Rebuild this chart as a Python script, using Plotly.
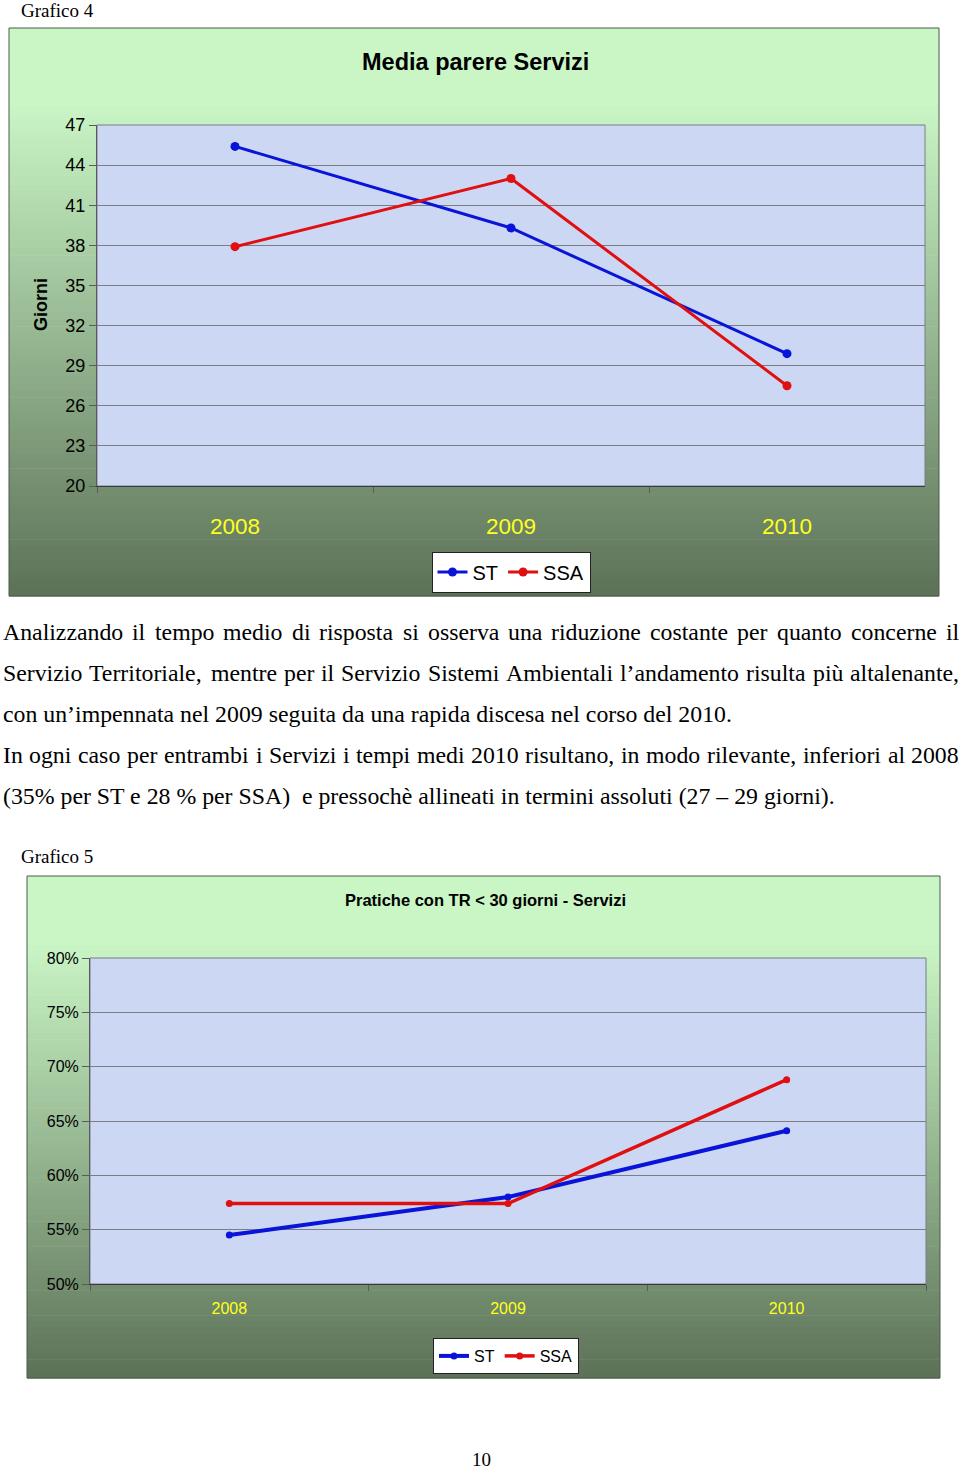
import plotly.graph_objects as go

# ---------------- data ----------------
years = ["2008", "2009", "2010"]
st_giorni = [45.4, 39.3, 29.9]
ssa_giorni = [37.9, 43.0, 27.5]
st_quota = [0.545, 0.580, 0.641]
ssa_quota = [0.574, 0.574, 0.688]
giorni_ticks = [20, 23, 26, 29, 32, 35, 38, 41, 44, 47]

W, H = 960, 1470


def px(x):
    return x / W


def py(y):
    return 1 - y / H


BLUE = "#0a14d8"
RED = "#e01010"
SANS = "Arial, Liberation Sans, sans-serif"
SERIF = "Liberation Serif, Times New Roman, serif"

fig = go.Figure()

# chart 1 traces
fig.add_trace(go.Scatter(x=years, y=st_giorni, name="ST", mode="lines+markers",
                         line=dict(color=BLUE, width=3), marker=dict(size=9, color=BLUE),
                         xaxis="x", yaxis="y", legend="legend"))
fig.add_trace(go.Scatter(x=years, y=ssa_giorni, name="SSA", mode="lines+markers",
                         line=dict(color=RED, width=3), marker=dict(size=9, color=RED),
                         xaxis="x", yaxis="y", legend="legend"))
# chart 2 traces
fig.add_trace(go.Scatter(x=years, y=st_quota, name="ST", mode="lines+markers",
                         line=dict(color=BLUE, width=4), marker=dict(size=7, color=BLUE),
                         xaxis="x2", yaxis="y2", legend="legend2"))
fig.add_trace(go.Scatter(x=years, y=ssa_quota, name="SSA", mode="lines+markers",
                         line=dict(color=RED, width=3.5), marker=dict(size=7, color=RED),
                         xaxis="x2", yaxis="y2", legend="legend2"))

shapes = []


def gradient_box(x0, y0, x1, y1, n=80):
    top = (202, 246, 198)
    bot = (92, 113, 87)
    h = (y1 - y0) / n
    for i in range(n):
        t = (i + 0.5) / n
        s = 0.0 if t < 0.13 else (t - 0.13) / 0.87
        c = tuple(int(round(top[k] + (bot[k] - top[k]) * s)) for k in range(3))
        shapes.append(dict(type="rect", xref="paper", yref="paper", layer="below",
                           x0=px(x0), x1=px(x1), y0=py(y0 + i * h), y1=py(y0 + (i + 1) * h + 0.6),
                           fillcolor="rgb(%d,%d,%d)" % c, line=dict(width=0)))
    shapes.append(dict(type="rect", xref="paper", yref="paper", layer="below",
                       x0=px(x0), x1=px(x1), y0=py(y0), y1=py(y1),
                       fillcolor="rgba(0,0,0,0)", line=dict(color="#4a5a48", width=1)))


def plot_area(x0, y0, x1, y1):
    shapes.append(dict(type="rect", xref="paper", yref="paper", layer="below",
                       x0=px(x0), x1=px(x1), y0=py(y0), y1=py(y1),
                       fillcolor="#ccd8f3", line=dict(color="#7a7a8a", width=1)))


gradient_box(9, 28, 939, 596)
plot_area(97, 125, 925, 486)
gradient_box(27, 876, 940, 1378)
plot_area(90, 958, 926, 1284)

# ---------------- text ----------------
CW = {' ': 250, '!': 333, '%': 833, "'": 180, '(': 333, ')': 333, ',': 250, '-': 333, '.': 250,
      'A': 722, 'B': 667, 'C': 667, 'D': 722, 'E': 611, 'F': 556, 'G': 722, 'H': 722, 'I': 333,
      'J': 389, 'K': 722, 'L': 611, 'M': 889, 'N': 722, 'O': 722, 'P': 556, 'Q': 722, 'R': 667,
      'S': 556, 'T': 611, 'U': 722, 'V': 722, 'W': 944, 'X': 722, 'Y': 722, 'Z': 611,
      'a': 444, 'b': 500, 'c': 444, 'd': 500, 'e': 444, 'f': 333, 'g': 500, 'h': 500, 'i': 278,
      'j': 278, 'k': 500, 'l': 278, 'm': 778, 'n': 500, 'o': 500, 'p': 500, 'q': 500, 'r': 333,
      's': 389, 't': 278, 'u': 500, 'v': 500, 'w': 722, 'x': 500, 'y': 500, 'z': 444,
      '’': 333, '–': 500, 'è': 444, 'ù': 500, 'à': 444}

FS = 23.8


def tw(s):
    return sum(CW.get(c, 500) for c in s) / 1000 * FS


annotations = []


def text(x, y, s, size, family=SERIF, color="black", anchor="left", bold=False, angle=0):
    if bold:
        s = "<b>" + s + "</b>"
    annotations.append(dict(x=px(x), y=py(y), xref="paper", yref="paper", text=s, showarrow=False,
                            xanchor=anchor, yanchor="middle", textangle=angle,
                            font=dict(family=family, size=size, color=color)))


para_lines = [
    ("Analizzando il tempo medio di risposta si osserva una riduzione costante per quanto concerne il", True),
    ("Servizio Territoriale, mentre per il Servizio Sistemi Ambientali l’andamento risulta più altalenante,", True),
    ("con un’impennata nel 2009 seguita da una rapida discesa nel corso del 2010.", False),
    ("In ogni caso per entrambi i Servizi i tempi medi 2010 risultano, in modo rilevante, inferiori al 2008", True),
    ("(35% per ST e 28 % per SSA)  e pressochè allineati in termini assoluti (27 – 29 giorni).", False),
]
X0, X1 = 1, 957
for i, (line, just) in enumerate(para_lines):
    y = 632 + 41 * i
    if just:
        words = line.split(" ")
        total = sum(tw(w) for w in words)
        gap = (X1 - X0 - total) / (len(words) - 1)
        x = X0
        for w in words:
            text(x, y, w, FS)
            x += tw(w) + gap
    else:
        text(X0, y, line, FS)

text(19, 10, "Grafico 4", 19)
text(19, 857, "Grafico 5", 19)
text(481, 1459, "10", 19, anchor="center")

text(475, 62, "Media parere Servizi", 23.5, family=SANS, anchor="center", bold=True)
text(485, 900, "Pratiche con TR &lt; 30 giorni - Servizi", 16.5, family=SANS, anchor="center", bold=True)
text(41, 305, "Giorni", 18, family=SANS, anchor="center", bold=True, angle=-90)

# ---------------- axes ----------------
common_x = dict(type="category", range=[-0.5, 2.5], showgrid=False, showline=True,
                linecolor="#3a3a3a", linewidth=1, ticks="outside", tickson="boundaries",
                ticklen=6, tickcolor="#5a5a5a", zeroline=False, automargin=False)
common_y = dict(showgrid=True, gridcolor="#7d7d86", gridwidth=1, showline=True,
                linecolor="#5a5a5a", ticks="outside", ticklen=7, tickcolor="#5a5a5a",
                zeroline=False, automargin=False)

fig.update_layout(
    width=W, height=H,
    autosize=False,
    margin=dict(l=0, r=0, t=0, b=0, pad=0, autoexpand=False),
    paper_bgcolor="white",
    plot_bgcolor="rgba(0,0,0,0)",
    showlegend=True,
    xaxis=dict(domain=[px(97), px(925)], anchor="y", **common_x,
               tickfont=dict(family=SANS, size=22.5, color="#ffff20"), ticklabelstandoff=20),
    yaxis=dict(domain=[py(486), py(125)], anchor="x", range=[20, 47], tickmode="array",
               tickvals=giorni_ticks, ticktext=[str(v) for v in giorni_ticks],
               tickfont=dict(family=SANS, size=18, color="black"), **common_y),
    xaxis2=dict(domain=[px(90), px(926)], anchor="y2", **common_x,
                tickfont=dict(family=SANS, size=16, color="#ffff20"), ticklabelstandoff=10),
    yaxis2=dict(domain=[py(1284), py(958)], anchor="x2", range=[0.5, 0.8], dtick=0.05,
                tick0=0.5, tickformat=".0%",
                tickfont=dict(family=SANS, size=16, color="black"), **common_y),
    legend=dict(x=px(511), y=py(572), xanchor="center", yanchor="middle", orientation="h",
                bgcolor="white", bordercolor="#222", borderwidth=1,
                font=dict(family=SANS, size=20, color="black"), itemwidth=30,
                tracegroupgap=0),
    legend2=dict(x=px(506), y=py(1356), xanchor="center", yanchor="middle", orientation="h",
                 bgcolor="white", bordercolor="#222", borderwidth=1,
                 font=dict(family=SANS, size=16, color="black"), itemwidth=30,
                 tracegroupgap=0),
    shapes=shapes,
    annotations=annotations,
)

fig.write_html("out.html")
